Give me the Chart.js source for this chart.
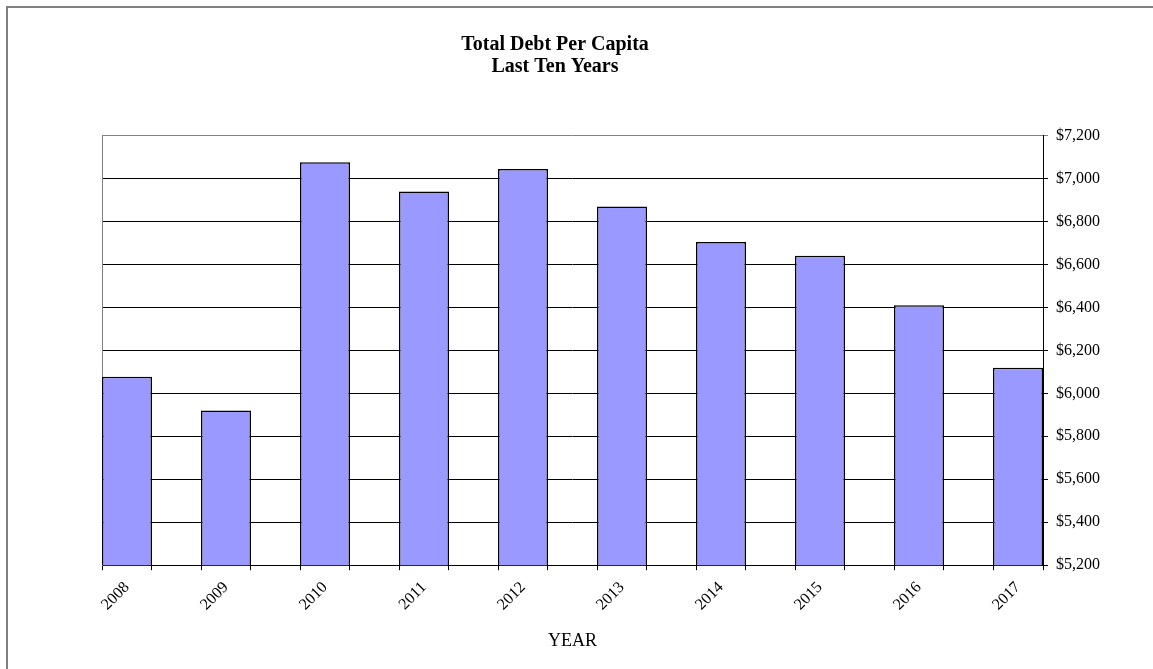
<!DOCTYPE html>
<html><head><meta charset="utf-8">
<script src="https://cdn.jsdelivr.net/npm/chart.js@4/dist/chart.umd.min.js"></script>
<style>
html,body{margin:0;padding:0;background:#fff;}
#wrap{position:relative;width:1153px;height:669px;overflow:hidden;background:#fff;}
#frame{position:absolute;left:6px;top:6px;width:1200px;height:700px;border-left:2px solid #808080;border-top:2px solid #808080;}
canvas{position:absolute;left:0;top:0;}
</style></head><body>
<div id="wrap"><div id="frame"></div><canvas id="c" width="1153" height="669"></canvas></div>
<script>
// ---- data ----
const years = ['2008','2009','2010','2011','2012','2013','2014','2015','2016','2017'];
const debtPerCapita = [6077, 5920, 7076, 6939, 7044, 6869, 6704, 6640, 6410, 6119];
const titleLines = ['Total Debt Per Capita', 'Last Ten Years'];
const xAxisTitle = 'YEAR';
const yMin = 5200, yMax = 7200, yStep = 200;

// ---- layout helpers ----
const barFrac = 0.505;            // bar width as fraction of category pitch
const half = barFrac / 2;
const xMin = -half, xMax = years.length - 1 + half;
const FONT = 'Liberation Serif';

const chartData = years.map((y, i) => ({ x: i, y: debtPerCapita[i] }));

new Chart(document.getElementById('c'), {
  type: 'bar',
  data: {
    datasets: [{
      data: chartData,
      backgroundColor: '#9999FF',
      borderColor: '#000000',
      borderWidth: 1.5,
      categoryPercentage: 1,
      barPercentage: barFrac,
      xAxisID: 'x',
      yAxisID: 'y'
    }]
  },
  options: {
    responsive: false,
    animation: false,
    devicePixelRatio: 1,
    layout: { padding: { left: 0, right: 43, top: 0, bottom: 16.5 } },
    plugins: {
      legend: { display: false },
      tooltip: { enabled: false },
      title: {
        display: true,
        text: titleLines,
        color: '#000',
        font: { family: FONT, size: 20, weight: 'bold', lineHeight: 1.1 },
        padding: { top: 34, bottom: 57.5 }
      }
    },
    scales: {
      x: {
        type: 'linear',
        position: 'bottom',
        weight: 1,
        offset: false,
        min: xMin,
        max: xMax,
        afterBuildTicks: (s) => { s.ticks = years.map((_, i) => ({ value: i })); },
        ticks: {
          autoSkip: false,
          minRotation: 45,
          maxRotation: 45,
          padding: 0,
          color: '#000',
          font: { family: FONT, size: 16 },
          callback: (v, i) => years[i]
        },
        grid: { display: false, offset: false },
        border: { display: false },
        title: {
          display: true,
          text: xAxisTitle,
          color: '#000',
          font: { family: FONT, size: 18 },
          padding: { top: 16.5, bottom: 0 }
        }
      },
      xTicks: {
        type: 'linear',
        position: 'bottom',
        weight: 0,
        offset: false,
        min: xMin,
        max: xMax,
        afterBuildTicks: (s) => {
          const t = [];
          years.forEach((_, i) => { t.push({ value: i - half }); t.push({ value: i + half }); });
          s.ticks = t;
        },
        ticks: { display: false },
        grid: { display: true, offset: false, drawOnChartArea: false, drawTicks: true, tickLength: 5, color: '#000' },
        border: { display: true, color: '#000', width: 1 }
      },
      y: {
        position: 'right',
        min: yMin,
        max: yMax,
        afterFit: (s) => { s.width = 67; },
        ticks: {
          stepSize: yStep,
          padding: 8,
          color: '#000',
          font: { family: FONT, size: 16 },
          callback: (v) => '$' + Number(v).toLocaleString('en-US')
        },
        grid: {
          color: (c) => (c.tick && c.tick.value === yMax) ? '#808080' : '#000',
          lineWidth: 1,
          tickLength: 5
        },
        border: { display: true, color: '#000', width: 1 }
      },
      yLeft: {
        position: 'left',
        min: yMin,
        max: yMax,
        afterFit: (s) => { s.width = 102; },
        ticks: { display: false },
        grid: { display: false, drawTicks: false },
        border: { display: true, color: '#808080', width: 1 }
      }
    }
  }
});
</script>
</body></html>
